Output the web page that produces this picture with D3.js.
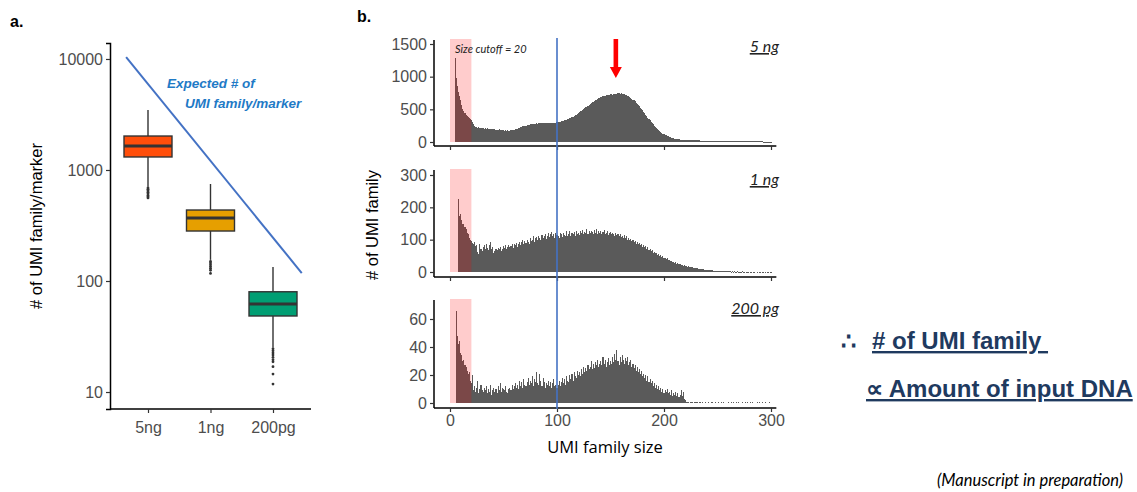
<!DOCTYPE html>
<html>
<head>
<meta charset="utf-8">
<script src="https://cdn.jsdelivr.net/npm/d3@7"></script>
<style>
  body { margin: 0; background: #fff; }
  svg { display: block; }
  text { font-family: "Liberation Sans", Arial, sans-serif; }
</style>
</head>
<body>
<svg id="chart" width="1137" height="492"></svg>
<script>
// ---- panel a: boxplots ----
const groups = ["5ng", "1ng", "200pg"];
const boxColors = ["#ff4e0a", "#e69f00", "#009e73"];
const q1 = [1310, 282, 48.4];
const median = [1645, 370, 62];
const q3 = [2023, 436, 80];
const whiskLo = [705, 155, 25];
const whiskHi = [3470, 748, 134];
const outliers = [
  [690, 670, 650, 630, 610, 590, 575, 560],
  [150, 145, 140, 135, 130, 125, 117],
  [24.5, 23.5, 22.5, 21.5, 20.5, 19.5, 18.7, 16.9, 14.5, 11.8]
];
const logTicks = [10, 100, 1000, 10000];
// expected line: position in group index units, value
const expectedIdx = [-0.35, 2.46];
const expectedVal = [10400, 118];

// ---- panel b: histograms, UMI family size 1..300 ----
const sizeTicks = [0, 100, 200, 300];
const cutoff = 20;
const panelNames = ["5 ng", "1 ng", "200 pg"];
const panelTicks = [[0, 500, 1000, 1500], [0, 100, 200, 300], [0, 20, 40, 60]];
const counts5ng = [
  0,0,0,0,1290,980,860,760,700,640,
  560,500,470,440,420,400,380,360,345,335,
  300,270,250,235,225,218,222,210,215,208,
  212,205,210,198,207,202,200,195,203,198,
  192,196,188,190,185,192,180,184,178,182,
  176,180,172,178,170,175,180,178,186,190,
  195,200,206,212,220,225,232,238,240,248,
  252,258,262,265,270,272,268,276,280,278,
  284,282,288,285,290,286,292,288,284,290,
  286,292,288,290,294,290,296,292,298,300,
  304,308,312,318,322,328,332,338,344,350,
  358,366,372,382,390,400,410,420,432,444,
  456,468,480,492,504,518,530,542,556,570,
  582,594,606,618,628,640,650,660,668,676,
  684,690,698,704,700,712,718,722,716,728,
  730,725,735,738,742,736,750,744,740,748,
  738,735,730,724,718,710,700,690,678,664,
  650,636,620,602,584,566,546,526,506,484,
  462,440,418,396,374,352,330,310,290,270,
  250,232,214,198,182,168,154,142,130,120,
  110,101,93,86,79,73,67,62,57,53,
  49,46,43,40,38,36,34,32,31,30,
  29,28,27,27,26,26,25,25,24,24,
  24,23,23,22,22,22,21,21,21,20,
  20,20,19,19,19,18,18,18,17,17,
  17,17,16,16,16,15,15,15,15,14,
  14,14,14,13,13,13,13,12,12,12,
  12,12,11,11,11,11,10,10,10,10,
  10,9,9,9,9,9,8,8,8,8,
  8,8,7,7,7,7,7,7,6,6
];
const counts1ng = [
  0,0,0,0,0,0,0,225,172,180,
  160,148,150,138,132,122,118,104,100,96,
  90,86,92,80,84,62,55,88,72,66,
  78,84,70,88,74,68,82,92,70,76,
  60,64,72,68,74,70,78,66,72,80,
  74,82,70,78,84,76,80,88,74,86,
  82,90,78,88,94,84,92,98,86,96,
  90,100,94,88,104,96,100,110,92,104,
  108,98,112,104,100,114,106,110,118,102,
  112,120,108,116,124,110,118,104,122,114,
  112,106,120,116,108,122,114,110,126,112,
  118,128,110,120,116,124,112,126,118,122,
  114,126,120,130,116,124,122,132,118,126,
  120,128,124,116,130,122,134,118,126,120,
  128,116,124,130,118,122,126,114,120,124,
  116,122,118,112,120,114,118,110,116,108,
  112,106,114,104,110,100,106,98,102,96,
  100,92,96,88,94,86,90,82,86,78,
  84,76,80,72,76,68,72,64,68,60,
  62,58,60,54,56,50,52,46,48,42,
  44,40,42,36,38,34,35,30,32,28,
  30,26,27,24,25,22,23,20,21,18,
  19,17,18,15,16,14,14,12,13,11,
  12,10,10,9,9,8,8,7,7,6,
  6,6,5,5,5,4,4,4,4,3,
  3,3,3,3,2,3,2,2,2,2,
  2,2,1,2,1,2,1,1,2,1,
  1,1,2,1,1,0,1,1,1,0,
  1,1,0,1,1,0,1,0,1,1,
  0,1,1,0,1,0,1,1,0,1
];
const counts200pg = [
  0,0,0,0,0,66,48,42,44,36,
  34,30,31,27,26,23,21,22,16,14,
  20,9,12,8,11,16,7,10,13,9,
  8,11,9,12,7,10,8,13,6,9,
  11,8,10,7,12,9,14,8,11,10,
  9,12,8,7,10,11,9,13,10,12,
  14,11,13,10,16,12,15,11,17,13,
  12,15,18,13,16,14,19,12,17,15,
  22,14,13,21,16,12,18,15,11,14,
  13,16,12,15,11,14,17,12,13,11,
  13,16,12,15,18,14,17,13,19,16,
  15,20,17,21,16,22,19,18,23,20,
  22,19,24,21,26,22,25,23,27,24,
  26,30,24,28,25,29,27,31,26,28,
  30,27,33,28,31,26,29,32,27,30,
  28,33,29,35,31,38,30,27,33,29,
  34,31,28,32,30,33,27,29,31,26,
  28,25,27,23,26,22,24,21,23,19,
  21,18,20,16,19,15,17,14,16,12,
  14,11,13,10,12,9,11,8,10,7,
  9,8,10,7,8,6,9,5,7,6,
  8,5,7,4,6,9,5,8,3,2,
  1,1,1,0,1,1,1,0,1,1,
  1,0,1,1,0,1,0,0,1,0,
  0,1,0,1,1,0,0,1,0,0,
  1,0,0,1,0,1,0,0,0,1,
  0,0,1,0,1,0,0,1,0,1,
  0,0,1,0,0,1,0,1,0,0,
  1,0,1,0,0,0,1,0,1,0,
  0,1,0,0,1,0,0,0,1,0
];
const arrowSize = 155;

const svg = d3.select("#chart");
const tickGrey = "#4d4d4d";

// ================= panel a =================
const ya = d3.scaleLog().domain([7.03, 13930]).range([409, 43]);
const xa = d3.scalePoint().domain(groups).range([148, 273]);
const xIdx = d3.scaleLinear().domain([0, 2]).range([148, 273]);

svg.append("text").attr("x", 10).attr("y", 27).text("a.")
  .style("font-weight", "bold").style("font-size", "16px");

const axA = svg.append("g").attr("transform", "translate(110,0)")
  .call(d3.axisLeft(ya).tickValues(logTicks).tickFormat(d3.format("d")).tickSizeOuter(0).tickSize(4));
const axAx = svg.append("g").attr("transform", "translate(0,409)")
  .call(d3.axisBottom(xa).tickSizeOuter(0).tickSize(4));
axAx.select(".domain").attr("d", "M110,0H311");
[axA, axAx].forEach(g => {
  g.select(".domain").attr("stroke", "#000").attr("stroke-width", 1.5);
  g.selectAll(".tick line").attr("stroke", "#333").attr("stroke-width", 1.2);
  g.selectAll(".tick text").attr("fill", tickGrey).style("font-size", "16px")
    .style("font-family", "Liberation Sans, Arial, sans-serif");
});
axAx.selectAll(".tick text").attr("dy", "1.05em");

svg.append("text").attr("transform", "translate(42,226) rotate(-90)")
  .attr("text-anchor", "middle").style("font-size", "16.5px").text("# of UMI family/marker");

const boxW = 48;
groups.forEach((g, i) => {
  const cx = xa(g);
  const bg = svg.append("g");
  bg.append("line").attr("x1", cx).attr("x2", cx).attr("y1", ya(whiskHi[i])).attr("y2", ya(q3[i]))
    .attr("stroke", "#333").attr("stroke-width", 1.4);
  bg.append("line").attr("x1", cx).attr("x2", cx).attr("y1", ya(q1[i])).attr("y2", ya(whiskLo[i]))
    .attr("stroke", "#333").attr("stroke-width", 1.4);
  bg.append("rect").attr("x", cx - boxW / 2).attr("width", boxW)
    .attr("y", ya(q3[i])).attr("height", ya(q1[i]) - ya(q3[i]))
    .attr("fill", boxColors[i]).attr("stroke", "#333").attr("stroke-width", 1.4);
  bg.append("line").attr("x1", cx - boxW / 2).attr("x2", cx + boxW / 2)
    .attr("y1", ya(median[i])).attr("y2", ya(median[i]))
    .attr("stroke", "#333").attr("stroke-width", 3);
  bg.selectAll("circle").data(outliers[i]).join("circle")
    .attr("cx", cx).attr("cy", d => ya(d)).attr("r", 1.4).attr("fill", "#333");
});

svg.append("line")
  .attr("x1", xIdx(expectedIdx[0])).attr("y1", ya(expectedVal[0]))
  .attr("x2", xIdx(expectedIdx[1])).attr("y2", ya(expectedVal[1]))
  .attr("stroke", "#4472c4").attr("stroke-width", 2);

const expTxt = svg.append("g").style("font-family", "Lato, 'Open Sans', sans-serif")
  .style("font-weight", "bold").style("font-style", "italic").style("font-size", "13.5px")
  .attr("fill", "#1f7ac6");
expTxt.append("text").attr("x", 167).attr("y", 88).text("Expected # of");
expTxt.append("text").attr("x", 185).attr("y", 108).text("UMI family/marker");

// ================= panel b =================
svg.append("text").attr("x", 357).attr("y", 22).text("b.")
  .style("font-weight", "bold").style("font-size", "16px");

const xb = d3.scaleLinear().domain([0, 300]).range([450, 771]);
const panels = [
  { counts: counts5ng, top: 40, base: 146, y0: 142, yMax: 1500, yMaxPx: 44 },
  { counts: counts1ng, top: 170, base: 277, y0: 272, yMax: 300, yMaxPx: 175 },
  { counts: counts200pg, top: 300, base: 408, y0: 403, yMax: 60, yMaxPx: 319 }
];
const barW = xb(1) - xb(0);

panels.forEach((p, k) => {
  const y = d3.scaleLinear().domain([0, p.yMax]).range([p.y0, p.yMaxPx]);
  const g = svg.append("g");
  const sizes = p.counts.map((c, i) => ({ s: i + 1, c: c })).filter(d => d.c > 0);
  g.selectAll("rect.bar").data(sizes).join("rect").attr("class", "bar")
    .attr("x", d => xb(d.s - 0.5)).attr("width", barW)
    .attr("y", d => y(d.c)).attr("height", d => Math.max(1, y(0) - y(d.c)))
    .attr("fill", "#5a5a5a").attr("shape-rendering", "crispEdges");
  // size cutoff shade
  g.append("rect").attr("x", xb(0)).attr("width", xb(cutoff) - xb(0))
    .attr("y", p.top - 1).attr("height", y(0) - p.top + 1)
    .attr("fill", "red").attr("fill-opacity", 0.2);

  const ay = g.append("g").attr("transform", "translate(434,0)")
    .call(d3.axisLeft(y).tickValues(panelTicks[k]).tickSize(4).tickSizeOuter(0)
      .tickFormat(d3.format("d")));
  ay.select(".domain").attr("d", `M0,${p.top}V${p.base}`);
  const ax = g.append("g").attr("transform", `translate(0,${p.base})`)
    .call(d3.axisBottom(xb).tickValues(sizeTicks).tickSize(4).tickSizeOuter(0)
      .tickFormat(k === 2 ? d3.format("d") : ""));
  ax.select(".domain").attr("d", `M434,0H${xb(305)}`);
  [ay, ax].forEach(a => {
    a.select(".domain").attr("stroke", "#000").attr("stroke-width", 1.5);
    a.selectAll(".tick line").attr("stroke", "#333").attr("stroke-width", 1.2);
    a.selectAll(".tick text").attr("fill", tickGrey).style("font-size", "16px")
      .style("font-family", "Liberation Sans, Arial, sans-serif");
  });

  g.append("text").attr("x", 779).attr("y", [52, 185, 314][k]).attr("text-anchor", "end")
    .style("font-family", "Lato, 'Open Sans', sans-serif").style("font-style", "italic")
    .style("font-size", "16px").attr("fill", "#222").attr("text-decoration", "underline")
    .text(panelNames[k]);
});

svg.append("text").attr("x", 455).attr("y", 53)
  .style("font-family", "Lato, 'Open Sans', sans-serif").style("font-style", "italic")
  .style("font-size", "11px").attr("fill", "#222").text("Size cutoff = " + cutoff);

// sample-size reference line at 100
svg.append("line").attr("x1", xb(100)).attr("x2", xb(100)).attr("y1", 38).attr("y2", 409)
  .attr("stroke", "#4472c4").attr("stroke-width", 1.6);

// red arrow above the 5 ng peak
const ax0 = xb(arrowSize);
svg.append("path")
  .attr("d", `M${ax0 - 2.3},39H${ax0 + 2.3}V67H${ax0 + 6}L${ax0},78L${ax0 - 6},67H${ax0 - 2.3}Z`)
  .attr("fill", "#ff0000");

svg.append("text").attr("transform", "translate(378,225) rotate(-90)")
  .attr("text-anchor", "middle").style("font-size", "16.5px").text("# of UMI family");
svg.append("text").attr("x", 605).attr("y", 453).attr("text-anchor", "middle")
  .style("font-family", "'Open Sans', sans-serif").style("font-size", "16.5px").text("UMI family size");

// ================= conclusion text =================
const concl = svg.append("g").style("font-family", "Lato, 'Open Sans', sans-serif").attr("fill", "#1f3a5f");
concl.append("text").attr("x", 841).attr("y", 350).style("font-size", "24px").style("font-weight", "bold").text("∴");
concl.append("text").attr("x", 872).attr("y", 349).style("font-size", "24px").style("font-weight", "bold")
  .attr("text-decoration", "underline").style("white-space", "pre").text("# of UMI family ");
concl.append("text").attr("x", 866).attr("y", 397).style("font-size", "24px").style("font-weight", "bold")
  .attr("text-decoration", "underline").text("∝ Amount of input DNA");

svg.append("text").attr("x", 937).attr("y", 486)
  .style("font-family", "Lato, 'Open Sans', sans-serif").style("font-style", "italic")
  .style("font-size", "16.5px").text("(Manuscript in preparation)");
</script>
</body>
</html>
